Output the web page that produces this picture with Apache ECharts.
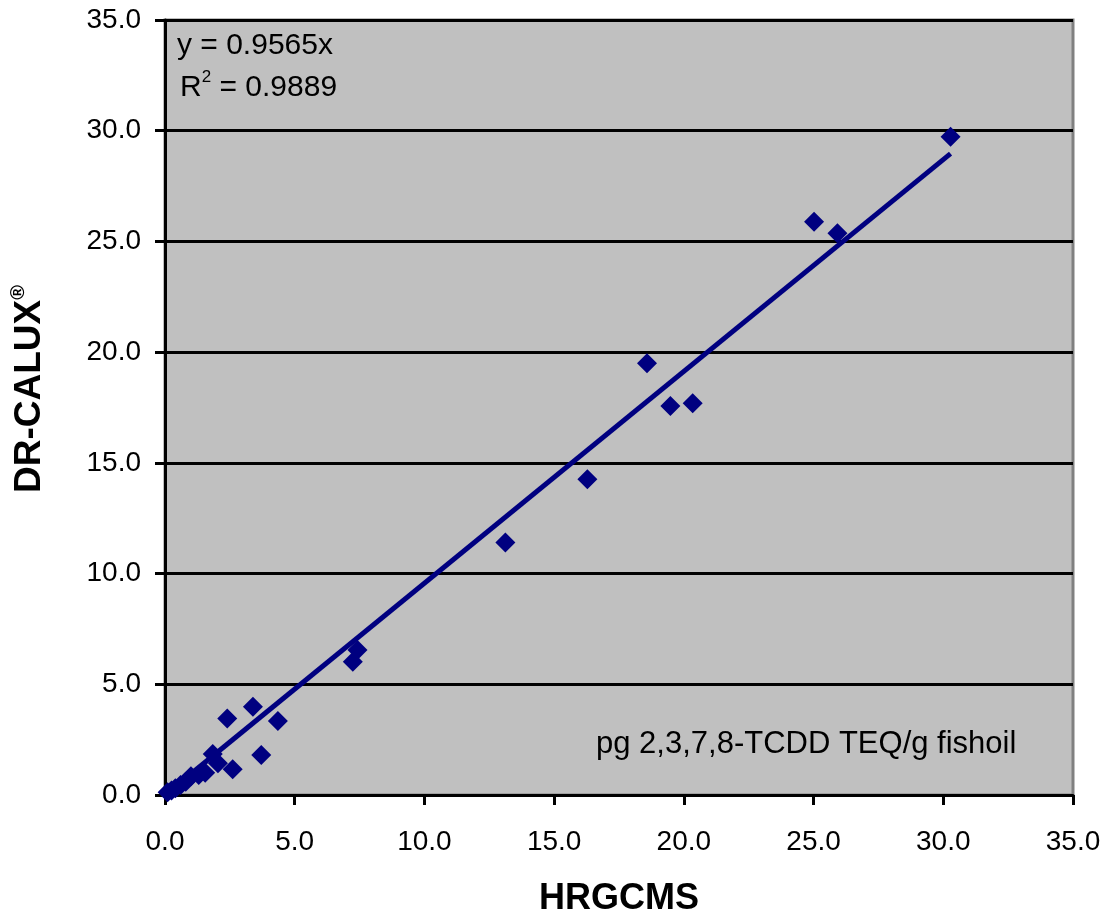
<!DOCTYPE html>
<html>
<head>
<meta charset="utf-8">
<style>
  html, body { margin: 0; padding: 0; background: #ffffff; }
  #chart { width: 1108px; height: 918px; }
</style>
<script src="https://cdn.jsdelivr.net/npm/echarts@6/dist/echarts.min.js"></script>
</head>
<body>
<div id="chart"></div>
<script>
// HRGCMS (x) vs DR-CALUX (y), pg 2,3,7,8-TCDD TEQ/g fishoil
const hrgcms = [0.10, 0.25, 0.40, 0.60, 0.80, 1.00, 1.30, 1.55, 1.84, 2.04, 2.40, 2.61, 3.39, 3.71, 4.35, 7.24, 7.42, 13.12, 16.28, 18.58, 19.48, 20.34, 25.02, 25.92, 30.28];
const drcalux = [0.12, 0.20, 0.30, 0.45, 0.60, 0.85, 0.90, 1.00, 1.85, 1.43, 3.46, 1.16, 3.99, 1.81, 3.34, 6.02, 6.55, 11.40, 14.26, 19.50, 17.57, 17.69, 25.89, 25.37, 29.73];
const trendSlope = 0.9565;
const rSquared = 0.9889;
const axisTicks = [0, 5, 10, 15, 20, 25, 30, 35];

const points = hrgcms.map((x, i) => [x, drcalux[i]]);
const xMaxData = Math.max(...hrgcms);
const trend = [[0, 0], [xMaxData, trendSlope * xMaxData]];

const FONT = '"Liberation Sans", Arial, sans-serif';
const NAVY = '#000080';

const chart = echarts.init(document.getElementById('chart'), null, { renderer: 'canvas' });

function axisCommon() {
  return {
    type: 'value',
    min: axisTicks[0],
    max: axisTicks[axisTicks.length - 1],
    interval: axisTicks[1] - axisTicks[0],
    axisLine: { show: true, onZero: false, lineStyle: { color: '#000', width: 3 } },
    axisTick: { show: true, inside: false, length: 10, lineStyle: { color: '#000', width: 3 } },
    axisLabel: {
      color: '#000', fontFamily: FONT, fontSize: 28,
      formatter: v => v.toFixed(1)
    }
  };
}

const xAxis = axisCommon();
xAxis.axisLabel.margin = 33;
xAxis.splitLine = { show: false };
xAxis.name = 'HRGCMS';
xAxis.nameLocation = 'middle';
xAxis.nameGap = 86;
xAxis.nameTextStyle = { color: '#000', fontFamily: FONT, fontSize: 36, fontWeight: 'bold' };

const yAxis = axisCommon();
yAxis.axisLabel.margin = 24;
yAxis.splitLine = { show: true, lineStyle: { color: '#000', width: 3 } };

chart.setOption({
  animation: false,
  backgroundColor: '#ffffff',
  grid: {
    left: 165, right: 35, top: 20, bottom: 123,
    containLabel: false,
    outerBoundsMode: 'none',
    show: true, backgroundColor: '#C0C0C0', borderColor: '#808080', borderWidth: 3
  },
  xAxis: xAxis,
  yAxis: yAxis,
  graphic: [
    {
      type: 'text', left: 8, top: 285, rotation: Math.PI / 2,
      originX: 0, originY: 0,
      style: {
        text: '{m|DR-CALUX}{s|®}',
        rich: {
          m: { fontFamily: FONT, fontSize: 37, fontWeight: 'bold', fill: '#000', lineHeight: 40, verticalAlign: 'bottom' },
          s: { fontFamily: FONT, fontSize: 20, fontWeight: 'bold', fill: '#000', lineHeight: 40, verticalAlign: 'top' }
        }
      },
      z: 10
    },
    {
      type: 'text', left: 177, top: 31,
      style: { text: 'y = ' + trendSlope.toFixed(4) + 'x', fontFamily: FONT, fontSize: 30, fill: '#000' },
      z: 10
    },
    {
      type: 'text', left: 180, top: 69,
      style: {
        text: '{m|R}{s|2}{m| = ' + rSquared.toFixed(4) + '}',
        rich: {
          m: { fontFamily: FONT, fontSize: 30, fill: '#000', lineHeight: 34, verticalAlign: 'bottom' },
          s: { fontFamily: FONT, fontSize: 17, fill: '#000', lineHeight: 34, verticalAlign: 'top' }
        }
      },
      z: 10
    },
    {
      type: 'text', left: 596, top: 729,
      style: { text: 'pg 2,3,7,8-TCDD TEQ/g fishoil', fontFamily: FONT, fontSize: 31, fill: '#000' },
      z: 10
    }
  ],
  series: [
    {
      type: 'line',
      data: trend,
      showSymbol: false,
      symbol: 'none',
      lineStyle: { color: NAVY, width: 5 },
      z: 3,
      silent: true
    },
    {
      type: 'scatter',
      data: points,
      symbol: 'diamond',
      symbolSize: 20,
      itemStyle: { color: NAVY, opacity: 1 },
      z: 2
    }
  ]
});
</script>
</body>
</html>
